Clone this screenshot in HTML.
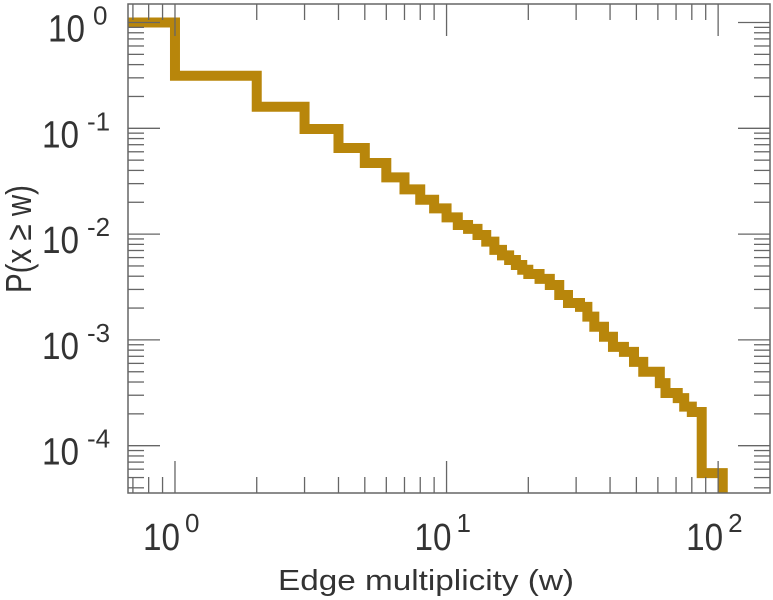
<!DOCTYPE html>
<html><head><meta charset="utf-8"><style>
html,body{margin:0;padding:0;background:#fff;}
svg{display:block;font-family:"Liberation Sans",sans-serif;}
</style></head><body>
<svg id="chart" width="773" height="600" viewBox="0 0 773 600" xmlns="http://www.w3.org/2000/svg">
<rect width="773" height="600" fill="#fff"/>
<g id="series"></g>
<g id="axes"></g>
<text x="278" y="590" font-size="29" fill="#333" textLength="296" lengthAdjust="spacingAndGlyphs">Edge multiplicity (w)</text>
<text transform="translate(31,293) rotate(-90)" x="0" y="0" font-size="36" fill="#333" textLength="108" lengthAdjust="spacingAndGlyphs">P(x ≥ w)</text>
</svg>
<script>
// data: step starts (w) and CCDF level P(x>=w) for that step
const stepW = [1,2,3,4,5,6,7,8,9,10,11,12,13,14,15,16,17,18,19,20,22,24,26,28,31,33,35,38,41,45,49,53,61,64,71,75,80,87];
const stepP = [0.314,0.160,0.0985,0.0652,0.0470,0.0344,0.0265,0.0211,0.0175,0.0144,0.0122,0.0112,0.0098,0.0085,0.0071,0.0063,0.0057,0.0051,0.0046,0.0042,0.00377,0.0033,0.00266,0.00223,0.00205,0.00166,0.00133,0.00107,0.00086,0.00077,0.00062,0.00050,0.00039,0.000315,0.000282,0.000234,0.000208,0.000055];
const lastW = [104];
const xTickExps = [0,1,2];
const yTickExps = [0,-1,-2,-3,-4];

const NS="http://www.w3.org/2000/svg";
const L=128,R=770,T=4,B=493;
const xLogMin=-0.173, xLogMax=2.191, yLogMax=0.175, yLogMin=-4.447;
function xs(v){return L+(Math.log10(v)-xLogMin)/(xLogMax-xLogMin)*(R-L);}
function ys(v){return T+(yLogMax-Math.log10(v))/(yLogMax-yLogMin)*(B-T);}
function el(tag,attrs,parent){const e=document.createElementNS(NS,tag);for(const k in attrs)e.setAttribute(k,attrs[k]);parent.appendChild(e);return e;}

const series=document.getElementById('series');
const axes=document.getElementById('axes');
let d="M"+L+","+ys(1)+" L"+xs(stepW[0])+","+ys(1);
for(let i=0;i<stepW.length;i++){
  const x0=xs(stepW[i]);
  const x1=xs(i+1<stepW.length?stepW[i+1]:lastW[0]);
  const y=ys(stepP[i]);
  d+=" L"+x0+","+y+" L"+x1+","+y;
}
d+=" L"+xs(lastW[0])+","+(B+6);
const clip=el('clipPath',{id:'pc'},series);
el('rect',{x:L,y:T,width:R-L,height:B-T},clip);
const p=el('path',{d:d,fill:'none',stroke:'#b8860b','stroke-width':10,'stroke-linejoin':'miter','stroke-linecap':'butt','clip-path':'url(#pc)'},series);



const fr=el('rect',{x:L,y:T,width:R-L,height:B-T,fill:'none',stroke:'#666','stroke-width':1.5},axes);



for(let e=-1;e<=2;e++){
  for(let m=1;m<10;m++){
    const v=m*Math.pow(10,e);
    const x=xs(v);
    if(x<L||x>R)continue;
    const len=m===1?32:16;
    const t1=el('line',{x1:x,x2:x,y1:B,y2:B-len,stroke:'#666','stroke-width':1.3},axes);
    
    
    const t2=el('line',{x1:x,x2:x,y1:T,y2:T+len,stroke:'#666','stroke-width':1.3},axes);
    
    
  }
}
for(let e=-5;e<=0;e++){
  for(let m=1;m<10;m++){
    const v=m*Math.pow(10,e);
    const y=ys(v);
    if(y<T||y>B)continue;
    const len=m===1?32:16;
    const t1=el('line',{x1:L,x2:L+len,y1:y,y2:y,stroke:'#666','stroke-width':1.3},axes);
    
    
    const t2=el('line',{x1:R,x2:R-len,y1:y,y2:y,stroke:'#666','stroke-width':1.3},axes);
    
    
  }
}
xTickExps.forEach(e=>{
  const x=xs(Math.pow(10,e));
  const t=el('text',{x:x-32,y:550,'font-size':38,fill:'#333',textLength:37,lengthAdjust:'spacingAndGlyphs'},axes);
  t.textContent='10';
  
  
  const s=el('text',{x:x+10,y:532,'font-size':26,fill:'#333'},axes);
  s.textContent=String(e);
  
  
});
yTickExps.forEach(e=>{
  const y=ys(Math.pow(10,e));
  const base=y+19;
  const supW=e<0?23:17;
  const t=el('text',{x:110-supW-8-37,y:base,'font-size':38,fill:'#333',textLength:37,lengthAdjust:'spacingAndGlyphs'},axes);
  t.textContent='10';
  
  
  const s=el('text',{x:110-supW,y:base-17,'font-size':26,fill:'#333'},axes);
  s.textContent=String(e);
  
  
});
</script>
</body></html>
